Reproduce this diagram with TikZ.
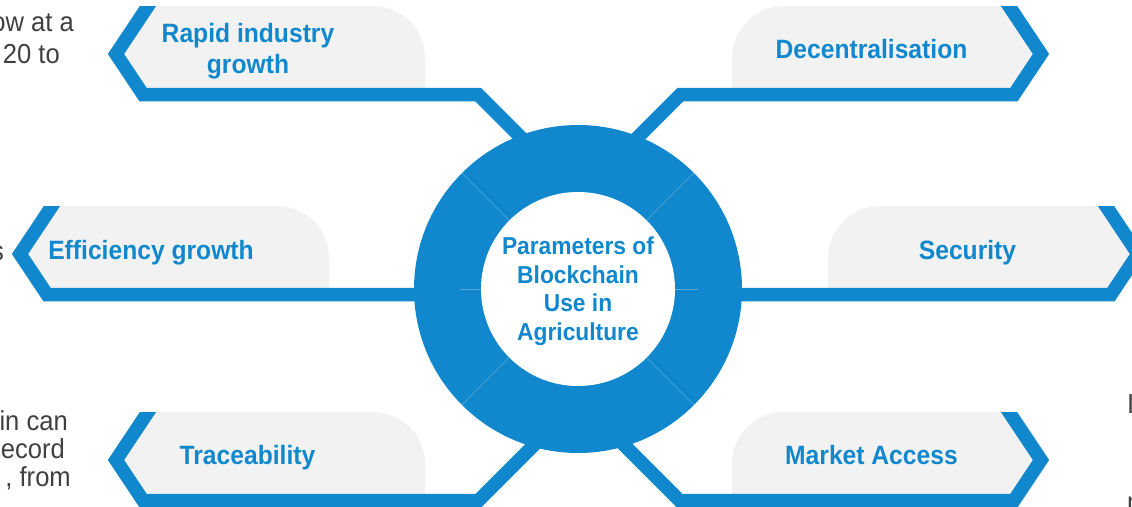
\documentclass[tikz,border=0pt]{standalone}
\usepackage{fontspec}
\setmainfont{Liberation Sans}[FakeStretch=0.93]
\definecolor{brandblue}{HTML}{1188CD}
\definecolor{panelgray}{HTML}{F2F2F2}
\definecolor{inkgray}{HTML}{404040}
\tikzset{
  callout/.style={line width=13.5pt, draw=brandblue, line join=miter},
  panelfill/.style={fill=panelgray},
  calltext/.style={text=brandblue, font=\fontsize{26.5}{31}\selectfont\bfseries, inner sep=0pt, align=center},
  centertext/.style={text=brandblue, font=\fontsize{24.5}{28.5}\selectfont\bfseries, inner sep=0pt, align=center},
  sidetext/.style={text=inkgray, font=\fontsize{27.5}{30}\selectfont, inner sep=0pt},
  ringsep/.style={draw=white, draw opacity=0.3, line width=0.6pt}
}
\begin{document}
\begin{tikzpicture}[x=1pt,y=-1pt]
\useasboundingbox (0,0) rectangle (1132,506);
\clip (0,0) rectangle (1132,506);
\coordinate (hubc) at (578,289);

% ---------- panels ----------
\fill[panelfill] (143,94.5) -- (116,54) -- (148,6) -- (373,6) arc[start angle=-90,end angle=0,radius=52] -- (425,94.5) -- cycle;
\fill[panelfill] (1014,94.5) -- (1041,54) -- (1009,6) -- (784,6) arc[start angle=270,end angle=180,radius=52] -- (732,94.5) -- cycle;
\fill[panelfill] (47,294.5) -- (20,254) -- (52,206) -- (277,206) arc[start angle=-90,end angle=0,radius=52] -- (329,294.5) -- cycle;
\fill[panelfill] (1111,294.5) -- (1138,254) -- (1106,206) -- (880,206) arc[start angle=270,end angle=180,radius=52] -- (828,294.5) -- cycle;
\fill[panelfill] (143,500.5) -- (116,460) -- (148,412) -- (373,412) arc[start angle=-90,end angle=0,radius=52] -- (425,500.5) -- cycle;
\fill[panelfill] (1014,500.5) -- (1041,460) -- (1009,412) -- (784,412) arc[start angle=270,end angle=180,radius=52] -- (732,500.5) -- cycle;

% ---------- chevrons and connectors ----------
\coordinate (ulA) at (164,-18);  \coordinate (ulB) at (116,54);  \coordinate (ulC) at (143,94.5);  \coordinate (ulD) at (478,94.5);   \coordinate (ulE) at (538,154.5);
\coordinate (urA) at (993,-18);  \coordinate (urB) at (1041,54); \coordinate (urC) at (1014,94.5); \coordinate (urD) at (680.5,94.5); \coordinate (urE) at (620.5,154.5);
\coordinate (mlA) at (68,182);   \coordinate (mlB) at (20,254);  \coordinate (mlC) at (47,294.5);   \coordinate (mlD) at (470,294.5);
\coordinate (mrA) at (1090,182); \coordinate (mrB) at (1138,254);\coordinate (mrC) at (1111,294.5); \coordinate (mrD) at (690,294.5);
\coordinate (blA) at (164,388);  \coordinate (blB) at (116,460); \coordinate (blC) at (143,500.5);  \coordinate (blD) at (478.5,500.5); \coordinate (blE) at (548.5,430.5);
\coordinate (brA) at (993,388);  \coordinate (brB) at (1041,460);\coordinate (brC) at (1014,500.5); \coordinate (brD) at (679.5,500.5); \coordinate (brE) at (609.5,430.5);

\begin{scope}
  \clip (0,6) rectangle (1132,506);
  \draw[callout] (ulA) -- (ulB) -- (ulC) -- (ulD) -- (ulE);
  \draw[callout] (urA) -- (urB) -- (urC) -- (urD) -- (urE);
\end{scope}
\begin{scope}
  \clip (0,206) rectangle (1132,506);
  \draw[callout] (mlA) -- (mlB) -- (mlC) -- (mlD);
  \draw[callout] (mrA) -- (mrB) -- (mrC) -- (mrD);
\end{scope}
\begin{scope}
  \clip (0,412) rectangle (1132,506);
  \draw[callout] (blA) -- (blB) -- (blC) -- (blD) -- (blE);
  \draw[callout] (brA) -- (brB) -- (brC) -- (brD) -- (brE);
\end{scope}

% ---------- hub ----------
\node[circle, fill=brandblue, minimum size=328pt, inner sep=0pt, outer sep=0pt] (hub) at (hubc) {};
\node[circle, fill=white, minimum size=194pt, inner sep=0pt, outer sep=0pt] (core) at (hubc) {};
\draw[ringsep] (hub.45) -- (core.45);
\draw[ringsep] (hub.135) -- (core.135);
\draw[ringsep] (hub.225) -- (core.225);
\draw[ringsep] (hub.315) -- (core.315);
\coordinate (sepL) at (460,289);
\coordinate (sepR) at (698,289);
\draw[ringsep] (sepL) -- (core.180);
\draw[ringsep] (core.0) -- (sepR);
\node[centertext] (coretext) at (578,291) {Parameters of\\Blockchain\\Use in\\Agriculture};

% ---------- callout texts ----------
\node[calltext] (rapid) at (248,51) {Rapid industry\\growth};
\node[calltext, anchor=base] (decent) at (871.5,58) {Decentralisation};
\node[calltext, anchor=base] (effic) at (151,259) {Efficiency growth};
\node[calltext, anchor=base] (secur) at (967.5,259) {Security};
\node[calltext, anchor=base] (trace) at (247.5,464) {Traceability};
\node[calltext, anchor=base] (market) at (871.5,464) {Market Access};

% ---------- cropped side texts ----------
\node[sidetext, anchor=base east] (s1) at (74,31) {ow at a};
\node[sidetext, anchor=base east] (s2) at (60,63) {20 to};
\node[sidetext, anchor=base east] (s3) at (4,260) {s};
\node[sidetext, anchor=base east] (s4) at (68,430) {in can};
\node[sidetext, anchor=base east] (s5) at (65,458) {ecord};
\node[sidetext, anchor=base east] (s6) at (71,486) {, from};
\node[sidetext, anchor=base west] (s7) at (1127,413) {I};
\node[sidetext, anchor=base west] (s8) at (1127,511) {m};
\end{tikzpicture}
\end{document}
